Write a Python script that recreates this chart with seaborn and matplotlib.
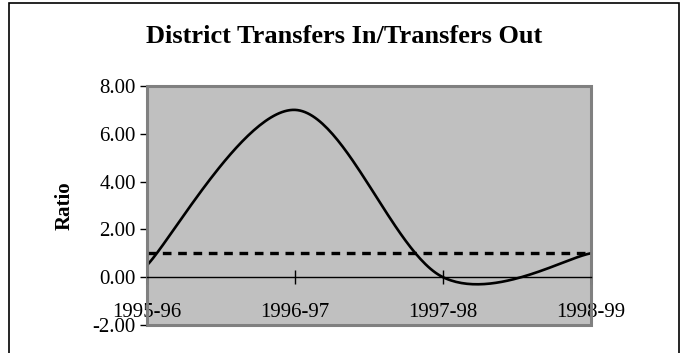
import numpy as np
import pandas as pd
import matplotlib
matplotlib.use("Agg")
import matplotlib.pyplot as plt
import seaborn as sns
from matplotlib.patches import Rectangle

# chart data
years = ["1995-96", "1996-97", "1997-98", "1998-99"]
ratio = [0.5, 7.0, 0.0, 1.0]
benchmark = [1.0, 1.0, 1.0, 1.0]
y_ticks = [-2, 0, 2, 4, 6, 8]


def excel_smooth(xs, ys, n=60):
    """Bezier smoothing like Excel's 'smoothed line' option."""
    pts = np.column_stack([xs, ys]).astype(float)
    out = []
    for i in range(len(pts) - 1):
        p0 = pts[max(i - 1, 0)]
        p1 = pts[i]
        p2 = pts[i + 1]
        p3 = pts[min(i + 2, len(pts) - 1)]
        c1 = p1 + (p2 - p0) / 6
        c2 = p2 - (p3 - p1) / 6
        t = np.linspace(0, 1, n)[:, None]
        seg = (1 - t) ** 3 * p1 + 3 * (1 - t) ** 2 * t * c1 + 3 * (1 - t) * t ** 2 * c2 + t ** 3 * p2
        out.append(seg if i == 0 else seg[1:])
    return np.vstack(out)


sns.set_theme(style="white")
plt.rcParams["font.family"] = ["Liberation Serif", "DejaVu Serif"]
plt.rcParams["text.color"] = "black"
plt.rcParams["axes.labelcolor"] = "black"

pos = np.arange(len(years))
curve = excel_smooth(pos, ratio)
df_curve = pd.DataFrame({"pos": curve[:, 0], "Ratio": curve[:, 1]})
df_bench = pd.DataFrame({"pos": pos, "Ratio": benchmark})

fig = plt.figure(figsize=(6.86, 3.53), dpi=100)
ax = fig.add_axes([0.2143, 0.0793, 0.6472, 0.6771])

# outer chart frame
fig.patches.append(Rectangle((0.0131, -0.2), 0.9767, 1.1915, transform=fig.transFigure,
                             fill=False, edgecolor="black", linewidth=1.2))

ax.set_facecolor("#C0C0C0")
ax.patch.set_edgecolor("#808080")
ax.patch.set_linewidth(2.2)

sns.lineplot(data=df_bench, x="pos", y="Ratio", ax=ax, color="black",
             linewidth=2.4, linestyle=(0, (2.6, 2.0)), sort=False)
sns.lineplot(data=df_curve, x="pos", y="Ratio", ax=ax, color="black",
             linewidth=1.9, sort=False)

# x axis crosses at zero (this resets ticks, so do it first)
ax.spines["bottom"].set_position(("data", 0))
ax.spines["bottom"].set_color("black")
ax.spines["bottom"].set_linewidth(1)
for s in ["top", "right", "left"]:
    ax.spines[s].set_color("#808080")
    ax.spines[s].set_linewidth(2)

ax.set_xlim(0, len(years) - 1)
ax.set_ylim(-2, 8)
ax.set_yticks(y_ticks)
ax.set_yticklabels([f"{v:.2f}" for v in y_ticks], fontsize=15)
ax.set_xticks(pos)
ax.set_xticklabels(years, fontsize=15)

ax.tick_params(axis="y", left=True, direction="out", length=5, width=1, pad=3, colors="black")
ax.tick_params(axis="x", bottom=True, direction="inout", length=9.5, width=1, pad=13.5, colors="black")

ax.set_xlabel("")
ax.set_ylabel("Ratio", fontsize=15, fontweight="bold", color="black")
ax.yaxis.set_label_coords(-0.162, 0.5)

fig.text(0.5015, 0.898, "District Transfers In/Transfers Out", ha="center", va="center",
         fontsize=19, fontweight="bold", color="black")

fig.savefig("out.png", dpi=100)
